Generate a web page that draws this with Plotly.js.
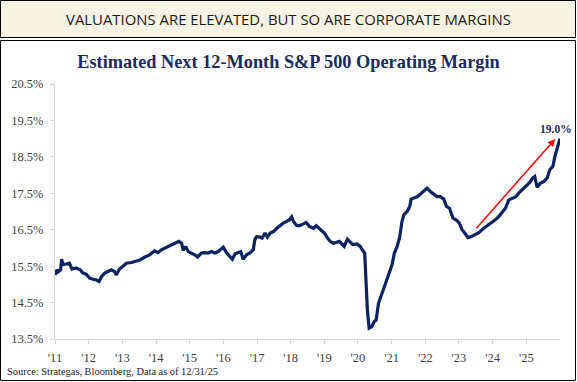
<!DOCTYPE html>
<html>
<head>
<meta charset="utf-8">
<script src="https://cdn.plot.ly/plotly-3.0.1.min.js"></script>
<style>
  html, body { margin: 0; padding: 0; background: #ffffff; }
  #chart { width: 577px; height: 382px; }
</style>
</head>
<body>
<div id="chart"></div>
<script>
// ---- data ----
const dates = [
  '2011-01-01','2011-01-23','2011-02-06','2011-03-03','2011-03-14','2011-03-28','2011-05-04','2011-06-06',
  '2011-07-05','2011-08-18','2011-10-01','2011-10-30','2011-12-05','2012-01-12','2012-02-18','2012-03-26',
  '2012-04-23','2012-05-19','2012-06-24','2012-07-27','2012-09-05','2012-10-08','2012-10-26','2012-12-02',
  '2013-01-08','2013-02-14','2013-04-10','2013-06-03','2013-07-09','2013-09-02','2013-10-23','2013-12-17',
  '2014-01-23','2014-02-28','2014-04-06','2014-05-12','2014-06-18','2014-07-24','2014-09-06','2014-10-05',
  '2014-10-23','2014-11-18','2014-12-17','2015-01-23','2015-02-25','2015-03-26','2015-05-09','2015-06-14',
  '2015-07-20','2015-08-25','2015-10-01','2015-11-06','2015-12-13','2016-01-01','2016-02-07','2016-03-14',
  '2016-04-08','2016-05-08','2016-06-10','2016-07-09','2016-08-04','2016-09-09','2016-10-16','2016-11-21',
  '2016-12-09','2016-12-28','2017-02-03','2017-02-25','2017-03-29','2017-04-23','2017-05-23','2017-06-28',
  '2017-08-04','2017-09-06','2017-10-12','2017-11-18','2017-12-17','2018-01-12','2018-01-30','2018-03-01',
  '2018-04-06','2018-05-19','2018-06-18','2018-07-24','2018-09-06','2018-10-05','2018-11-10','2018-12-05',
  '2019-01-01','2019-01-26','2019-03-04','2019-04-09','2019-05-16','2019-06-14','2019-07-09','2019-08-04',
  '2019-09-09','2019-10-09','2019-11-06','2019-12-20','2020-01-26','2020-02-24','2020-03-14','2020-03-21',
  '2020-04-01','2020-04-12','2020-05-01','2020-05-30','2020-06-25','2020-07-16','2020-08-11','2020-09-06',
  '2020-10-12','2020-11-10','2020-12-10','2021-01-05','2021-01-30','2021-03-01','2021-03-29','2021-04-23',
  '2021-05-12','2021-06-18','2021-07-16','2021-07-31','2021-09-06','2021-10-09','2021-11-14','2021-12-13',
  '2022-01-19','2022-02-24','2022-04-01','2022-05-08','2022-06-13','2022-07-20','2022-08-18','2022-09-20',
  '2022-10-27','2022-12-10','2023-01-05','2023-02-03','2023-03-04','2023-04-09','2023-05-16','2023-06-21',
  '2023-08-04','2023-09-17','2023-10-27','2023-12-17','2024-01-30','2024-03-07','2024-04-12','2024-05-19',
  '2024-06-24','2024-07-31','2024-09-06','2024-10-12','2024-11-18','2025-01-01','2025-02-07','2025-03-11',
  '2025-04-02','2025-04-27','2025-06-03','2025-07-09','2025-08-15','2025-09-13','2025-10-16','2025-11-07',
  '2025-11-29','2025-12-31'
];
const margins = [
  15.26,15.40,15.35,15.40,15.69,15.54,15.56,15.58,
  15.42,15.45,15.40,15.31,15.28,15.17,15.14,15.12,
  15.08,15.21,15.31,15.35,15.40,15.35,15.26,15.42,
  15.49,15.58,15.60,15.63,15.67,15.75,15.81,15.92,
  15.87,15.95,15.99,16.04,16.09,16.13,16.18,16.13,
  15.93,16.04,15.90,15.86,15.81,15.75,15.86,15.87,
  15.86,15.90,15.86,15.90,15.97,16.02,15.86,15.76,
  15.69,15.84,15.87,15.90,15.69,15.81,15.86,15.95,
  16.24,16.31,16.30,16.27,16.41,16.30,16.41,16.45,
  16.54,16.61,16.68,16.73,16.77,16.85,16.73,16.63,
  16.61,16.66,16.70,16.59,16.54,16.61,16.52,16.48,
  16.41,16.31,16.18,16.13,16.15,16.18,16.11,16.04,
  16.24,16.15,16.09,16.11,16.04,15.92,15.86,15.49,
  14.85,14.30,13.80,13.84,13.98,14.02,14.48,14.66,
  14.90,15.08,15.35,15.54,15.86,16.04,16.30,16.73,
  16.91,17.00,17.14,17.34,17.37,17.41,17.49,17.55,
  17.64,17.55,17.49,17.41,17.41,17.34,17.14,17.09,
  16.82,16.75,16.68,16.50,16.41,16.28,16.31,16.36,
  16.42,16.52,16.59,16.68,16.77,16.86,16.96,17.09,
  17.32,17.37,17.40,17.51,17.60,17.73,17.80,17.92,
  17.96,17.67,17.78,17.82,17.92,18.15,18.24,18.51,
  18.70,19.00
];
const tickYears = ['2011','2012','2013','2014','2015','2016','2017','2018','2019','2020','2021','2022','2023','2024','2025'];
const yTicks = [13.5, 14.5, 15.5, 16.5, 17.5, 18.5, 19.5, 20.5];
const trendStart = { date: '2023-06-25', value: 16.50 };
const trendEnd   = { date: '2025-11-10', value: 18.99 };

const headerText = 'VALUATIONS ARE ELEVATED, BUT SO ARE CORPORATE MARGINS';
const titleText = 'Estimated Next 12-Month S&amp;P 500 Operating Margin';
const sourceText = 'Source: Strategas, Bloomberg, Data as of 12/31/25';

// ---- layout helpers (pixel -> paper) ----
const W = 577, H = 382;
const M = { l: 55, r: 17, t: 84, b: 43 };
const PW = W - M.l - M.r, PH = H - M.t - M.b;
const px = x => (x - M.l) / PW;
const py = y => (H - M.b - y) / PH;

const serif = '"Liberation Serif", "Times New Roman", serif';
const navy = '#0b2263';

const lastVal = margins[margins.length - 1];
const lastDate = dates[dates.length - 1];

const trace = {
  type: 'scatter', mode: 'lines',
  x: dates, y: margins,
  line: { color: navy, width: 3.2 },
  hoverinfo: 'skip'
};

const layout = {
  width: W, height: H,
  margin: M,
  paper_bgcolor: '#ffffff',
  plot_bgcolor: 'rgba(0,0,0,0)',
  showlegend: false,
  title: {
    text: '<b>' + titleText + '</b>',
    font: { family: serif, size: 18.3, color: '#1c2b5e' },
    x: 0.5, xref: 'container', xanchor: 'center',
    y: 1 - 62 / H, yref: 'container', yanchor: 'middle'
  },
  xaxis: {
    type: 'date',
    range: ['2011-01-01', '2026-01-01'],
    tickvals: tickYears.map(y => y + '-01-01'),
    tickformat: "'%y",
    ticks: 'outside', ticklen: 4, tickcolor: '#d9d9d9', tickwidth: 1,
    ticklabelstandoff: 3,
    showline: true, linecolor: '#d9d9d9', linewidth: 1,
    showgrid: false, zeroline: false,
    tickfont: { family: serif, size: 12.5, color: '#404040' }
  },
  yaxis: {
    range: [13.5, 20.5],
    tickvals: yTicks,
    ticktext: yTicks.map(v => v.toFixed(1) + '%'),
    ticks: 'outside', ticklen: 4, tickcolor: '#d9d9d9', tickwidth: 1,
    ticklabelstandoff: 4,
    showline: true, linecolor: '#d9d9d9', linewidth: 1,
    showgrid: false, zeroline: false,
    tickfont: { family: serif, size: 12.5, color: '#404040' }
  },
  shapes: [
    { type: 'rect', xref: 'paper', yref: 'paper', layer: 'below',
      x0: px(0.5), x1: px(575.5), y0: py(37.5), y1: py(0.5),
      fillcolor: '#f8f4e4', line: { color: '#000000', width: 1 } },
    { type: 'rect', xref: 'paper', yref: 'paper', layer: 'below',
      x0: px(0.5), x1: px(575.5), y0: py(380.5), y1: py(40.5),
      fillcolor: '#ffffff', line: { color: '#000000', width: 1 } }
  ],
  annotations: [
    { xref: 'paper', yref: 'paper', x: px(288.5), y: py(18.5),
      text: headerText, showarrow: false, xanchor: 'center', yanchor: 'middle',
      font: { family: '"Open Sans", sans-serif', size: 14.9, color: '#1a1a1a' } },
    { xref: 'paper', yref: 'paper', x: px(5), y: py(371),
      text: sourceText, showarrow: false, xanchor: 'left', yanchor: 'middle',
      font: { family: serif, size: 10.4, color: '#1a1a1a' } },
    { xref: 'x', yref: 'y', axref: 'x', ayref: 'y',
      x: trendEnd.date, y: trendEnd.value, ax: trendStart.date, ay: trendStart.value,
      showarrow: true, arrowhead: 2, arrowsize: 1, arrowwidth: 1.5, arrowcolor: '#ff0000', text: '' },
    { xref: 'x', yref: 'y', x: lastDate, y: lastVal,
      text: '<b>' + lastVal.toFixed(1) + '%</b>', showarrow: false,
      xanchor: 'center', yanchor: 'bottom', xshift: -4, yshift: 2,
      font: { family: serif, size: 11.5, color: '#1c2b5e' } }
  ]
};

Plotly.newPlot('chart', [trace], layout, { displayModeBar: false, staticPlot: true });
</script>
</body>
</html>
